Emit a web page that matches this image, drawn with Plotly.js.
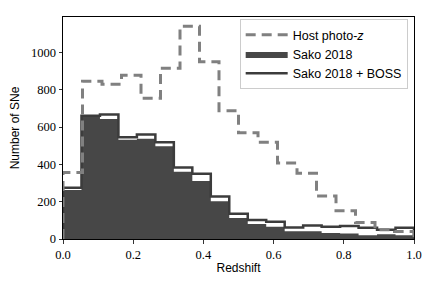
<!DOCTYPE html>
<html><head><meta charset="utf-8">
<script src="https://cdn.plot.ly/plotly-3.0.1.min.js"></script>
<style>html,body{margin:0;padding:0;background:#fff}#chart{width:436px;height:291px}</style>
</head><body><div id="chart"></div>
<script>
// Histogram counts (bins spanning redshift 0..1)
const hostCounts = [357, 845, 830, 878, 755, 915, 1140, 950, 688, 570, 518, 407, 353, 230, 152, 88, 50, 40];
const sakoCounts = [262, 655, 643, 532, 538, 497, 360, 311, 203, 113, 80, 65, 42, 42, 32, 30, 20, 25, 20];
const bossCounts = [275, 660, 668, 545, 560, 518, 383, 350, 228, 136, 102, 92, 62, 72, 66, 70, 60, 50, 60];
const seriesNames = ['Host photo-<i>z</i>', 'Sako 2018', 'Sako 2018 + BOSS'];
const zMin = 0, zMax = 1;
const xTicks = [0, 0.2, 0.4, 0.6, 0.8, 1.0];
const xTickLabels = ['0.0', '0.2', '0.4', '0.6', '0.8', '1.0'];
const yTicks = [0, 200, 400, 600, 800, 1000];

function binEdges(n) {
  const e = [];
  for (let i = 0; i <= n; i++) e.push(zMin + (zMax - zMin) * i / n);
  return e;
}
function stepXY(counts) {
  const n = counts.length, e = binEdges(n);
  const x = [e[0]], y = [0];
  for (let i = 0; i < n; i++) { x.push(e[i]); y.push(counts[i]); }
  x.push(e[n]); y.push(counts[n - 1]);
  x.push(e[n]); y.push(0);
  return {x, y};
}

const sako = stepXY(sakoCounts), boss = stepXY(bossCounts), host = stepXY(hostCounts);
const sansFont = 'Liberation Sans, Arial, sans-serif';
const serifFont = 'Liberation Serif, DejaVu Serif, serif';

const traces = [
  {type: 'scatter', mode: 'lines', x: sako.x, y: sako.y, name: seriesNames[1], legendrank: 2,
   line: {shape: 'hv', width: 0, color: '#474747'}, fill: 'tozeroy', fillcolor: '#474747', hoverinfo: 'skip'},
  {type: 'scatter', mode: 'lines', x: boss.x, y: boss.y, name: seriesNames[2], legendrank: 3,
   line: {shape: 'hv', width: 2.5, color: '#3c3c3c'}, hoverinfo: 'skip'},
  {type: 'scatter', mode: 'lines', x: host.x, y: host.y, name: seriesNames[0], legendrank: 1,
   line: {shape: 'hv', width: 3, color: '#808080', dash: '10px,6px'}, hoverinfo: 'skip'}
];

const layout = {
  width: 436, height: 291,
  margin: {l: 63, r: 22, t: 17, b: 52, pad: 0},
  paper_bgcolor: '#fff', plot_bgcolor: '#fff',
  showlegend: true,
  legend: {x: 0.982, y: 0.99, xanchor: 'right', yanchor: 'top',
    bgcolor: 'rgba(255,255,255,0.8)', bordercolor: '#cccccc', borderwidth: 1,
    font: {family: sansFont, size: 12.5, color: '#000'}, itemwidth: 42, traceorder: 'normal'},
  xaxis: {range: [zMin, zMax], tickvals: xTicks, ticktext: xTickLabels, ticks: 'outside', ticklen: 3.5, tickwidth: 0.8,
    tickcolor: '#000', showgrid: false, zeroline: false, showline: true, linecolor: '#000', linewidth: 1, mirror: true,
    tickfont: {family: serifFont, size: 12.5, color: '#000'},
    title: {text: 'Redshift', font: {family: sansFont, size: 12, color: '#000'}, standoff: 3}},
  yaxis: {range: [0, 1190], tickvals: yTicks, ticks: 'outside', ticklen: 3.5, tickwidth: 0.8,
    tickcolor: '#000', showgrid: false, zeroline: false, showline: true, linecolor: '#000', linewidth: 1, mirror: true,
    tickfont: {family: serifFont, size: 12.5, color: '#000'},
    title: {text: 'Number of SNe', font: {family: sansFont, size: 12, color: '#000'}, standoff: 8}}
};

Plotly.newPlot('chart', traces, layout, {staticPlot: true, displayModeBar: false});
</script>
</body></html>
